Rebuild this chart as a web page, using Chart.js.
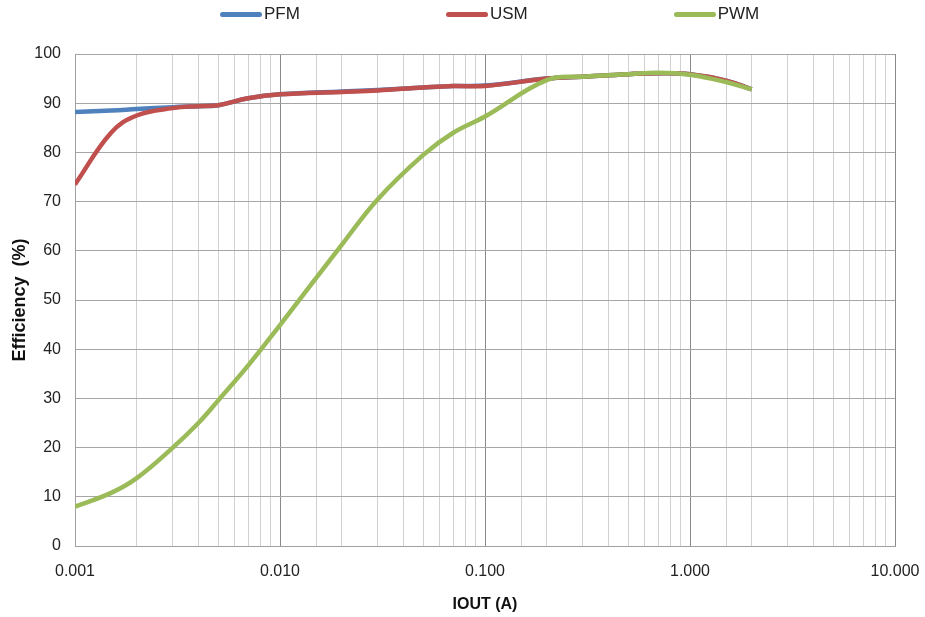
<!DOCTYPE html>
<html>
<head>
<meta charset="utf-8">
<script src="https://cdn.jsdelivr.net/npm/chart.js@4/dist/chart.umd.min.js"></script>
<style>
    html, body { margin: 0; padding: 0; background: #fff; }
    #wrap { position: relative; width: 925px; height: 617px; }
    #legend {
        position: absolute; top: 0; left: 220px; height: 28px;
        display: flex; align-items: center; gap: 146px;
        font-family: 'Liberation Sans', Arial, sans-serif;
        font-size: 17px; color: #222;
    }
    #legend .item { display: flex; align-items: center; }
    #legend .swatch { width: 42px; height: 5px; border-radius: 3px; margin-right: 2px; }
</style>
</head>
<body>
<div id="wrap">
    <canvas id="eff" width="925" height="617"></canvas>
    <div id="legend"></div>
</div>
<script>
// output current (A)
var currents = [0.001, 0.0015, 0.002, 0.003, 0.004, 0.005, 0.007, 0.01, 0.02, 0.03, 0.05, 0.07, 0.1, 0.2, 0.3, 0.5, 0.7, 1, 1.5, 2];
// efficiency (%) per mode
var pfm = [88.2, 88.5, 88.8, 89.2, 89.4, 89.6, 91.0, 91.8, 92.4, 92.7, 93.2, 93.5, 93.6, 95.0, 95.4, 95.9, 96.1, 95.9, 94.6, 92.8];
var usm = [73.5, 84.0, 87.5, 89.0, 89.4, 89.6, 91.0, 91.8, 92.3, 92.6, 93.2, 93.5, 93.5, 95.0, 95.4, 95.9, 96.1, 95.9, 94.6, 92.8];
var pwm = [8.0, 10.8, 13.8, 20.0, 25.0, 29.6, 36.7, 44.9, 61.2, 70.5, 79.5, 84.0, 87.3, 94.7, 95.4, 95.9, 96.2, 95.8, 94.3, 92.8];

var seriesNames = ['PFM', 'USM', 'PWM'];
var seriesColors = ['#4F81BD', '#C0504D', '#9BBB59'];
var yTicks = [0, 10, 20, 30, 40, 50, 60, 70, 80, 90, 100];

var sans = "'Liberation Sans', Arial, sans-serif";

function toPoints(values) {
    return currents.map((c, i) => ({ x: c, y: values[i] }));
}

function isDecade(v) {
    var l = Math.log10(v);
    return Math.abs(l - Math.round(l)) < 1e-6;
}

var ctx = document.getElementById('eff').getContext('2d');
var chart = new Chart(ctx, {
    type: 'line',
    data: {
        datasets: [pfm, usm, pwm].map((vals, i) => ({
            label: seriesNames[i],
            data: toPoints(vals),
            borderColor: seriesColors[i],
            backgroundColor: seriesColors[i],
            borderWidth: 4.5,
            pointRadius: 0,
            tension: 0.4,
            order: 2 - i // PWM on top
        }))
    },
    options: {
        responsive: false,
        animation: false,
        layout: { padding: { top: 54, right: 30, left: 0, bottom: 0 } },
        plugins: {
            legend: { display: false },
            tooltip: { enabled: false }
        },
        scales: {
            x: {
                type: 'logarithmic',
                min: 0.001,
                max: 10,
                grid: {
                    drawTicks: false,
                    color: c => (c.tick && isDecade(c.tick.value)) ? '#8a8a8a' : '#d0d0d0',
                    lineWidth: 1
                },
                border: { color: '#a0a0a0' },
                ticks: {
                    autoSkip: false,
                    maxRotation: 0,
                    padding: 16,
                    color: '#222',
                    font: { family: sans, size: 16 },
                    callback: v => isDecade(v) ? Number(v).toFixed(3) : ''
                },
                title: {
                    display: true,
                    text: 'IOUT (A)',
                    color: '#111',
                    font: { family: sans, size: 16, weight: 'bold' },
                    padding: { top: 3, bottom: 3 }
                },
                afterFit: s => {
                    s.height = 71;
                    // edge labels fit inside the layout padding
                    s.paddingLeft = 0;
                    s.paddingRight = 0;
                }
            },
            y: {
                min: 0,
                max: 100,
                afterBuildTicks: s => { s.ticks = yTicks.map(v => ({ value: v })); },
                grid: { drawTicks: false, color: '#a6a6a6' },
                border: { color: '#a0a0a0' },
                ticks: {
                    padding: 14,
                    color: '#222',
                    font: { family: sans, size: 16 }
                },
                title: {
                    display: true,
                    text: 'Efficiency  (%)',
                    color: '#111',
                    font: { family: sans, size: 18, weight: 'bold' },
                    padding: { top: 9, bottom: 0 }
                },
                afterFit: s => { s.width = 75; }
            }
        }
    }
});

// html legend built from the datasets
var legendEl = document.getElementById('legend');
chart.data.datasets.forEach(ds => {
    var item = document.createElement('div');
    item.className = 'item';
    item.innerHTML = '<span class="swatch" style="background:' + ds.borderColor + '"></span><span>' + ds.label + '</span>';
    legendEl.appendChild(item);
});
</script>
</body>
</html>
